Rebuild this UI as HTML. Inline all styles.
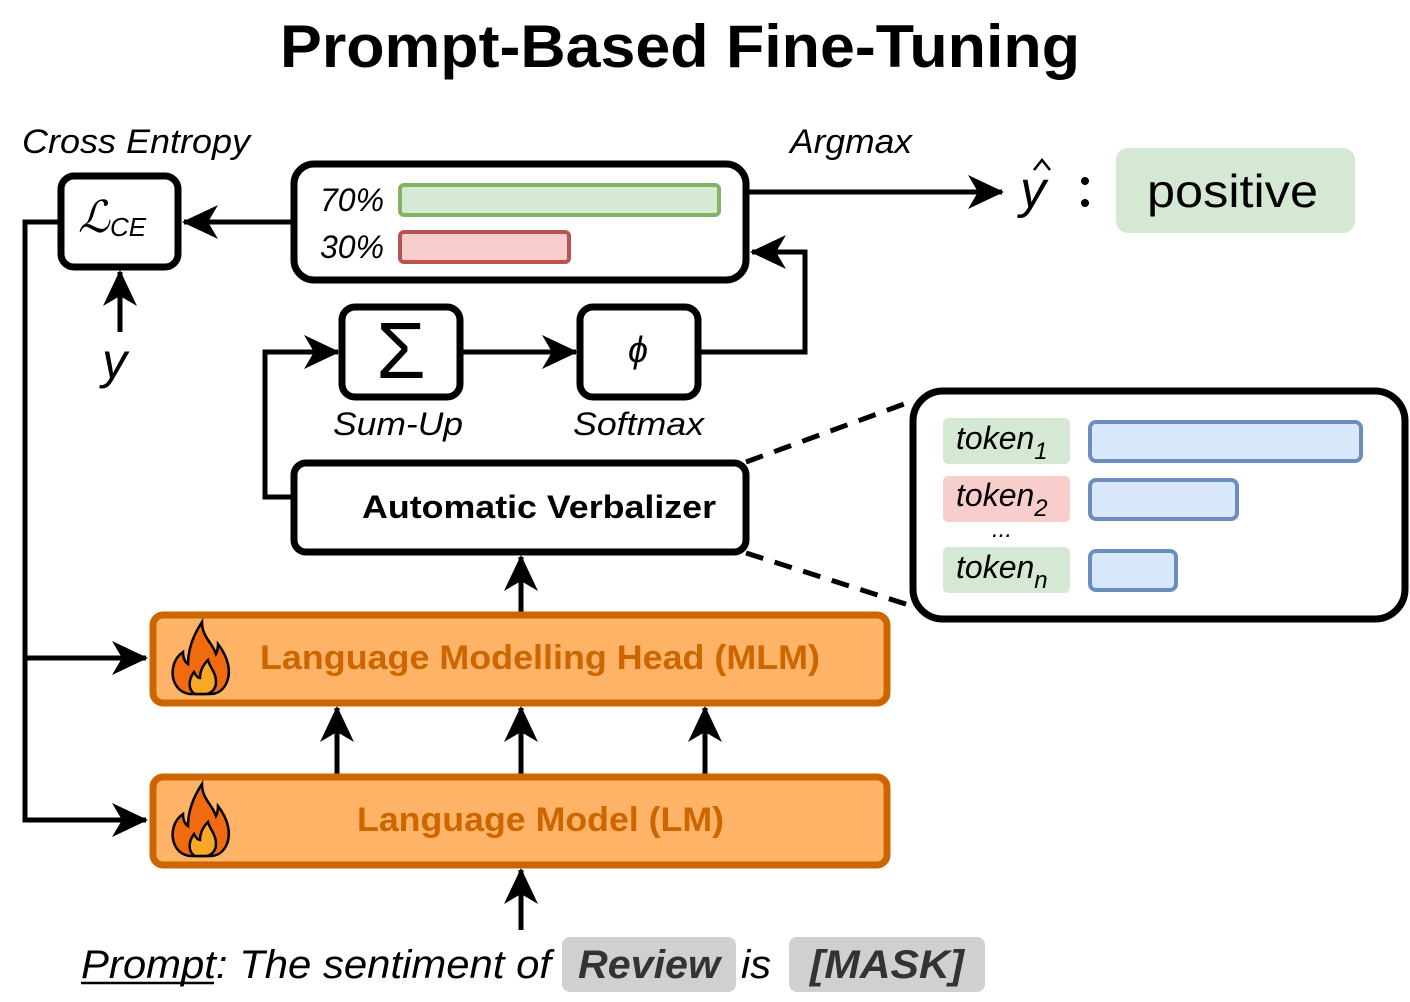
<!DOCTYPE html>
<html><head><meta charset="utf-8"><style>
html,body{margin:0;padding:0;background:#fff;}
svg{display:block;}
text{font-family:"Liberation Sans",sans-serif;}
</style></head><body>
<svg width="1410" height="1002" viewBox="0 0 1410 1002" xmlns="http://www.w3.org/2000/svg">
<defs>
<marker id="a" markerUnits="userSpaceOnUse" markerWidth="36" markerHeight="34" refX="34" refY="17" orient="auto" viewBox="0 0 36 34">
<path d="M0,0 L36,17 L0,34 L10,17 Z" fill="#000"/>
</marker>
<g id="flame">
<path d="M40,82 C25,80 20,65 24,52 C26,46 30,42 33,40 C33,46 35,50 38,52 C38,40 42,25 52,10 C52,25 62,30 66,42 C68,38 68,34 68,32 C78,45 82,60 76,72 C72,80 65,82 60,82 Z" fill="#f26a10" stroke="#000" stroke-width="2.5"/>
<path d="M45,82 C38,78 38,68 44,60 C46,64 48,66 50,66 C50,58 54,52 58,48 C60,56 66,60 66,70 C66,78 60,82 55,82 Z" fill="#f9a825" stroke="#000" stroke-width="2.5"/>
</g>
</defs>

<text x="280" y="67" font-size="60" font-weight="bold" textLength="800" lengthAdjust="spacingAndGlyphs">Prompt-Based Fine-Tuning</text>

<text x="22" y="153" font-size="34" font-style="italic" textLength="228" lengthAdjust="spacingAndGlyphs">Cross Entropy</text>
<text x="790" y="153" font-size="34" font-style="italic" textLength="122" lengthAdjust="spacingAndGlyphs">Argmax</text>

<g stroke="#000" stroke-width="5" fill="none">
<polyline points="62,222 25,222 25,820 146,820" marker-end="url(#a)"/>
<polyline points="25,658 146,658" marker-end="url(#a)"/>
<line x1="293" y1="222" x2="184" y2="222" marker-end="url(#a)"/>
<line x1="120" y1="332" x2="120" y2="272" marker-end="url(#a)"/>
<line x1="746" y1="192" x2="1002" y2="192" marker-end="url(#a)"/>
<line x1="461" y1="352" x2="576" y2="352" marker-end="url(#a)"/>
<polyline points="699,352 805,352 805,252 752,252" marker-end="url(#a)"/>
<polyline points="293,497 265,497 265,352 338,352" marker-end="url(#a)"/>
<line x1="521" y1="612" x2="521" y2="557" marker-end="url(#a)"/>
<line x1="337" y1="775" x2="337" y2="708" marker-end="url(#a)"/>
<line x1="521" y1="775" x2="521" y2="708" marker-end="url(#a)"/>
<line x1="705" y1="775" x2="705" y2="708" marker-end="url(#a)"/>
<line x1="521" y1="930" x2="521" y2="870" marker-end="url(#a)"/>
<line x1="746" y1="462" x2="915" y2="400" stroke-dasharray="18,12"/>
<line x1="746" y1="553" x2="915" y2="607" stroke-dasharray="18,12"/>
</g>

<rect x="61" y="176" width="117" height="91" rx="13" fill="#fff" stroke="#000" stroke-width="7"/>
<text x="78" y="232" font-size="44" font-style="italic" font-family="Liberation Serif,serif">ℒ</text>
<text x="110" y="236" font-size="26" font-style="italic" font-family="Liberation Serif,serif">CE</text>
<text x="102" y="378" font-size="50" font-style="italic" font-family="Liberation Serif,serif">y</text>

<rect x="294" y="164" width="452" height="116" rx="20" fill="#fff" stroke="#000" stroke-width="7"/>
<text x="320" y="211" font-size="32" font-style="italic">70%</text>
<text x="320" y="258" font-size="32" font-style="italic">30%</text>
<rect x="400" y="185" width="319" height="30" rx="4" fill="#d5e8d4" stroke="#82b366" stroke-width="4"/>
<rect x="400" y="232" width="169" height="30" rx="4" fill="#f8cecc" stroke="#b85450" stroke-width="4"/>

<text x="1020" y="207" font-size="52" font-style="italic" font-family="Liberation Serif,serif">y</text>
<path d="M1034,170 L1042,160 L1050,170" stroke="#000" stroke-width="2.5" fill="none"/>
<circle cx="1085" cy="181" r="4"/><circle cx="1085" cy="203" r="4"/>
<rect x="1116" y="148" width="239" height="85" rx="12" fill="#d5e8d4"/>
<text x="1147" y="207" font-size="46" textLength="171" lengthAdjust="spacingAndGlyphs">positive</text>

<rect x="342" y="307" width="118" height="90" rx="13" fill="#fff" stroke="#000" stroke-width="7"/>
<text x="401" y="378" font-size="80" text-anchor="middle" font-family="Liberation Serif,serif">Σ</text>
<rect x="580" y="307" width="118" height="90" rx="13" fill="#fff" stroke="#000" stroke-width="7"/>
<text x="638" y="362" font-size="36" font-style="italic" text-anchor="middle" font-family="Liberation Serif,serif">ϕ</text>
<text x="333" y="435" font-size="32" font-style="italic" textLength="130" lengthAdjust="spacingAndGlyphs">Sum-Up</text>
<text x="573" y="435" font-size="32" font-style="italic" textLength="131" lengthAdjust="spacingAndGlyphs">Softmax</text>

<rect x="294" y="463" width="452" height="89" rx="12" fill="#fff" stroke="#000" stroke-width="7"/>
<text x="362" y="518" font-size="32" font-weight="bold" textLength="354" lengthAdjust="spacingAndGlyphs">Automatic Verbalizer</text>

<rect x="913" y="391" width="492" height="228" rx="30" fill="#fff" stroke="#000" stroke-width="7"/>
<rect x="943" y="418" width="127" height="46" rx="5" fill="#d5e8d4"/>
<rect x="943" y="476" width="127" height="46" rx="5" fill="#f8cecc"/>
<rect x="943" y="547" width="127" height="46" rx="5" fill="#d5e8d4"/>
<text x="956" y="449" font-size="32" font-style="italic">token<tspan font-size="24" dy="10">1</tspan></text>
<text x="956" y="506" font-size="32" font-style="italic">token<tspan font-size="24" dy="10">2</tspan></text>
<text x="992" y="537" font-size="24" font-style="italic">...</text>
<text x="956" y="578" font-size="32" font-style="italic">token<tspan font-size="24" dy="10">n</tspan></text>
<rect x="1090" y="422" width="271" height="39" rx="6" fill="#dae8fc" stroke="#6c8ebf" stroke-width="4"/>
<rect x="1090" y="480" width="147" height="39" rx="6" fill="#dae8fc" stroke="#6c8ebf" stroke-width="4"/>
<rect x="1090" y="551" width="86" height="39" rx="6" fill="#dae8fc" stroke="#6c8ebf" stroke-width="4"/>

<rect x="153" y="615" width="734" height="88" rx="10" fill="#ffb366" stroke="#cc6600" stroke-width="7"/>
<text x="260" y="669" font-size="34" font-weight="bold" fill="#cc6600" textLength="560" lengthAdjust="spacingAndGlyphs">Language Modelling Head (MLM)</text>
<use href="#flame" x="150" y="612"/>
<rect x="153" y="777" width="734" height="88" rx="10" fill="#ffb366" stroke="#cc6600" stroke-width="7"/>
<text x="357" y="831" font-size="34" font-weight="bold" fill="#cc6600" textLength="367" lengthAdjust="spacingAndGlyphs">Language Model (LM)</text>
<use href="#flame" x="150" y="774"/>

<rect x="562" y="937" width="174" height="55" rx="8" fill="#d0d0d0"/>
<rect x="789" y="937" width="196" height="55" rx="8" fill="#d0d0d0"/>
<text x="81" y="978" font-size="40" font-style="italic" textLength="470" lengthAdjust="spacingAndGlyphs">Prompt: The sentiment of</text>
<line x1="81" y1="983" x2="214" y2="983" stroke="#000" stroke-width="2.5"/>
<text x="578" y="978" font-size="40" font-style="italic" font-weight="bold" fill="#333" textLength="142" lengthAdjust="spacingAndGlyphs">Review</text>
<text x="741" y="978" font-size="40" font-style="italic" textLength="30" lengthAdjust="spacingAndGlyphs">is</text>
<text x="810" y="978" font-size="40" font-style="italic" font-weight="bold" fill="#333" textLength="154" lengthAdjust="spacingAndGlyphs">[MASK]</text>
</svg>
</body></html>
